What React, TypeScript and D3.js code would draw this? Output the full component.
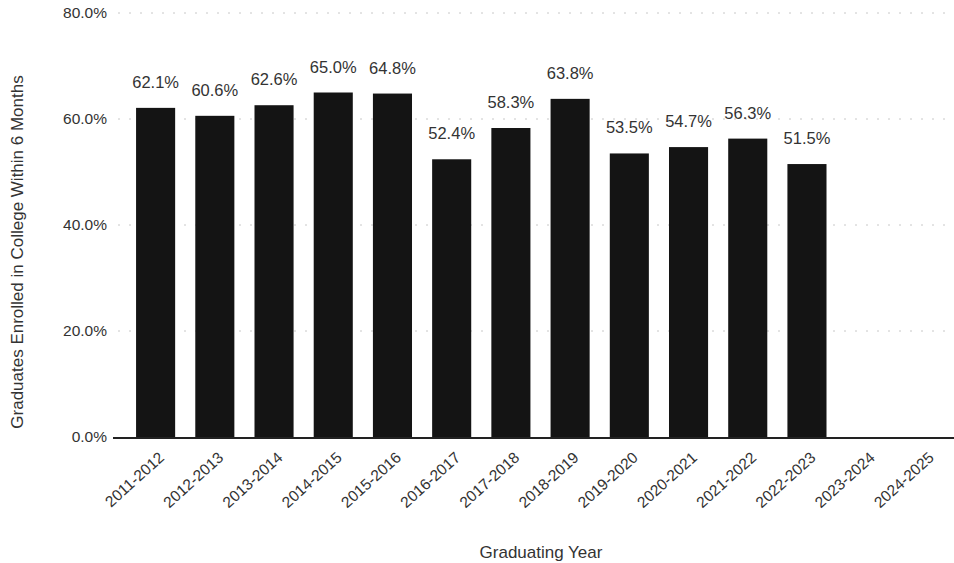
import * as d3 from "d3";
import React from "react";

const years = [
  "2011-2012", "2012-2013", "2013-2014", "2014-2015", "2015-2016", "2016-2017", "2017-2018",
  "2018-2019", "2019-2020", "2020-2021", "2021-2022", "2022-2023", "2023-2024", "2024-2025",
];
const enrolled: (number | null)[] = [
  62.1, 60.6, 62.6, 65.0, 64.8, 52.4, 58.3, 63.8, 53.5, 54.7, 56.3, 51.5, null, null,
];
const yTicks = [0, 20, 40, 60, 80];

const W = 954;
const H = 563;
const left = 126;
const right = 955;
const top = 13;
const bottom = 437;

const App = () => {
  const x = d3.scaleBand<string>().domain(years).range([left, right]).paddingInner(0.34).paddingOuter(0.17);
  const y = d3.scaleLinear().domain([0, 80]).range([bottom, top]);
  const fmt = (v: number) => v.toFixed(1) + "%";
  const font = "'Liberation Sans', Arial, sans-serif";

  return (
    <svg width={W} height={H} style={{ position: "absolute", left: 0, top: 0, background: "#fff" }} fontFamily={font}>
      {/* grid */}
      {yTicks.filter((t) => t > 0).map((t) => (
        <line key={t} x1={118} x2={W} y1={y(t)} y2={y(t)} stroke="#c8c8c8" strokeWidth={1} strokeDasharray="2 9" />
      ))}
      {/* y tick labels */}
      {yTicks.map((t) => (
        <text key={t} x={107} y={y(t)} dy="0.35em" textAnchor="end" fontSize={15.5} fill="#333">
          {fmt(t)}
        </text>
      ))}
      {/* bars */}
      {years.map((yr, i) => {
        const v = enrolled[i];
        if (v == null) return null;
        return (
          <g key={yr}>
            <rect x={x(yr)} y={y(v)} width={x.bandwidth()} height={bottom - y(v)} fill="#141414" />
            <text x={x(yr)! + x.bandwidth() / 2} y={y(v) - 20} textAnchor="middle" fontSize={16.5} fill="#333">
              {fmt(v)}
            </text>
          </g>
        );
      })}
      {/* baseline */}
      <line x1={113} x2={W} y1={bottom + 1} y2={bottom + 1} stroke="#222" strokeWidth={2} />
      {/* x tick labels */}
      {years.map((yr) => {
        const cx = x(yr)! + x.bandwidth() / 2 + 6;
        return (
          <text key={yr} transform={`translate(${cx},${bottom + 18}) rotate(-42)`} textAnchor="end" dy="0.35em" fontSize={15.5} fill="#333">
            {yr}
          </text>
        );
      })}
      {/* axis titles */}
      <text x={541} y={552} dy="0.35em" textAnchor="middle" fontSize={17} fill="#333">
        Graduating Year
      </text>
      <text transform="translate(17,252) rotate(-90)" textAnchor="middle" dy="0.35em" fontSize={17} fill="#333">
        Graduates Enrolled in College Within 6 Months
      </text>
    </svg>
  );
};

export default App;
